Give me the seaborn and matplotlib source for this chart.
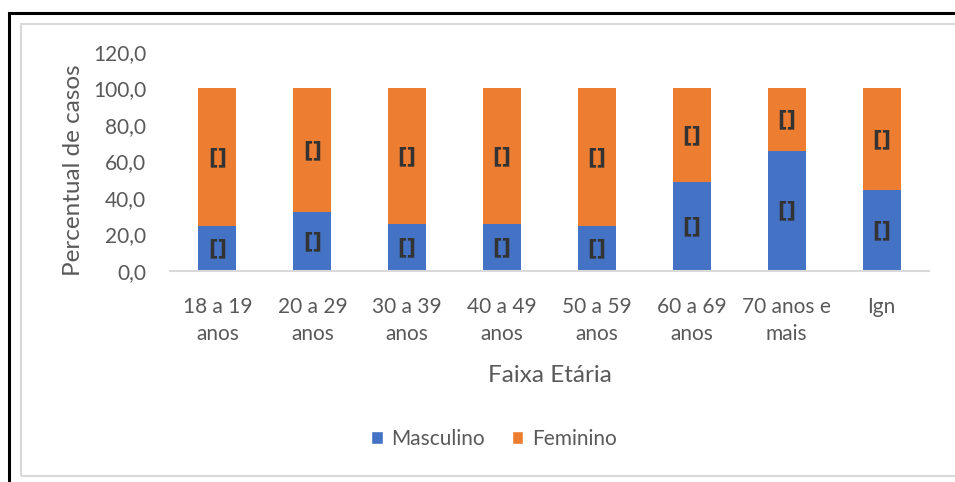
import matplotlib
matplotlib.use("Agg")
import matplotlib.pyplot as plt
from matplotlib.patches import Rectangle, Patch
import numpy as np
import pandas as pd
import seaborn as sns

# Data
faixas = ["18 a 19\nanos", "20 a 29\nanos", "30 a 39\nanos", "40 a 49\nanos",
          "50 a 59\nanos", "60 a 69\nanos", "70 anos e\nmais", "Ign"]
masculino = [24.5, 32.2, 25.6, 25.6, 24.5, 48.5, 65.8, 44.1]
feminino = [75.5, 67.8, 74.4, 74.4, 75.5, 51.5, 34.2, 55.9]
rotulos = ["[]"] * len(faixas)
yticks = [0, 20, 40, 60, 80, 100, 120]

sns.set_theme(style="white")
plt.rcParams["font.family"] = ["Lato", "DejaVu Sans"]

AZUL = "#4472C4"
LARANJA = "#ED7D31"
TEXTO = "#595959"

W, H = 955, 482
fig = plt.figure(figsize=(W / 100, H / 100), dpi=100)
ax = fig.add_axes([170 / W, 1 - 270.7 / H, (929 - 170) / W, 218.9 / H])

df = pd.DataFrame({"faixa": faixas, "masc": masculino, "fem": feminino})
df["total"] = df["masc"] + df["fem"]

sns.barplot(data=df, x="faixa", y="total", color=LARANJA, saturation=1,
            width=0.4, ax=ax, edgecolor="none")
sns.barplot(data=df, x="faixa", y="masc", color=AZUL, saturation=1,
            width=0.4, ax=ax, edgecolor="none")

# Data labels centred in each segment
lbl_kw = dict(ha="center", va="center", fontsize=15, fontweight="bold",
              color="#333333", family=["DejaVu Sans"])
for i, (m, f) in enumerate(zip(masculino, feminino)):
    ax.text(i, m / 2, rotulos[i], **lbl_kw)
    ax.text(i, m + f / 2, rotulos[i], **lbl_kw)

ax.set_ylim(0, 120)
ax.set_xlim(-0.5, len(faixas) - 0.5)
ax.set_yticks(yticks)
ax.set_yticklabels([f"{v:.1f}".replace(".", ",") for v in yticks])
ax.tick_params(axis="y", length=0, pad=17, labelsize=15, labelcolor=TEXTO)
ax.tick_params(axis="x", length=0, pad=19, labelsize=15, labelcolor=TEXTO)
for lbl in ax.get_xticklabels():
    lbl.set_linespacing(1.45)
ax.set_xlabel("")
ax.set_ylabel("")
for s in ["top", "right", "left"]:
    ax.spines[s].set_visible(False)
ax.spines["bottom"].set_color("#D9D9D9")
ax.spines["bottom"].set_linewidth(1.5)
ax.grid(False)

fig.text(73 / W, 1 - 170 / H, "Percentual de casos", rotation=90, ha="center",
         va="center", fontsize=17.5, color=TEXTO)
fig.text(550 / W, 1 - 376 / H, "Faixa Etária", ha="center", va="center",
         fontsize=17.5, color=TEXTO)

handles = [Patch(facecolor=AZUL, label="Masculino"),
           Patch(facecolor=LARANJA, label="Feminino")]
leg = fig.legend(handles=handles, loc="center", bbox_to_anchor=(494 / W, 1 - 439 / H),
                 ncol=2, frameon=False, fontsize=15, handlelength=0.55,
                 handleheight=0.6, handletextpad=0.4, columnspacing=1.3)
for t in leg.get_texts():
    t.set_color(TEXTO)

# Chart area frames
fig.patches.append(Rectangle((21 / W, 1 - 476 / H), (W + 20) / W, (476 - 24) / H,
                             transform=fig.transFigure, fill=False,
                             edgecolor="#D9D9D9", linewidth=1.5))
fig.patches.append(Rectangle((9 / W, -0.1), (W + 20) / W, 1.1 - 12.5 / H,
                             transform=fig.transFigure, fill=False,
                             edgecolor="black", linewidth=2.2))

fig.savefig("out.png", dpi=100)
